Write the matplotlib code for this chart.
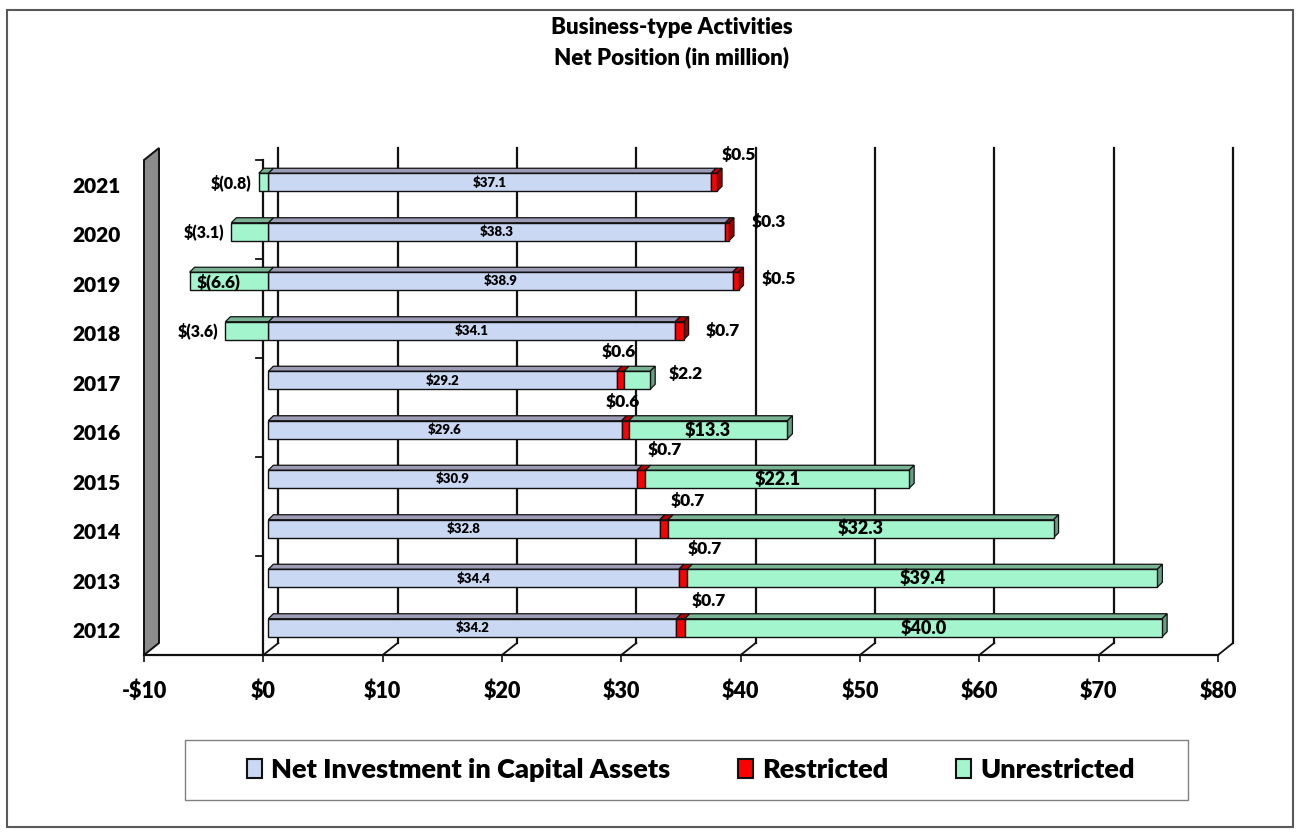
import matplotlib
matplotlib.use("Agg")
import matplotlib.pyplot as plt
from matplotlib.patches import Polygon, Rectangle, Patch
from matplotlib.transforms import ScaledTranslation

# ---- data (millions) ----
years = ["2012", "2013", "2014", "2015", "2016", "2017", "2018", "2019", "2020", "2021"]
net_investment = [34.2, 34.4, 32.8, 30.9, 29.6, 29.2, 34.1, 38.9, 38.3, 37.1]
restricted = [0.7, 0.7, 0.7, 0.7, 0.6, 0.6, 0.7, 0.5, 0.3, 0.5]
unrestricted = [40.0, 39.4, 32.3, 22.1, 13.3, 2.2, -3.6, -6.6, -3.1, -0.8]
x_ticks = [-10, 0, 10, 20, 30, 40, 50, 60, 70, 80]
x_tick_labels = ["-$10", "$0", "$10", "$20", "$30", "$40", "$50", "$60", "$70", "$80"]
series_names = ["Net Investment in Capital Assets", "Restricted", "Unrestricted"]

# ---- style ----
FONT = ["Lato", "DejaVu Sans"]
plt.rcParams["font.family"] = FONT
plt.rcParams["font.weight"] = "heavy"

C_NI, C_NI_TOP = "#CAD8F4", "#9C9CB6"
C_R, C_R_TOP, C_R_SIDE = "#FF0000", "#B80000", "#A00000"
C_U, C_U_TOP, C_U_SIDE = "#A3F5CE", "#78B394", "#6A9E84"
EDGE = "#111111"

W, H, DPI = 1300, 834, 100
fig = plt.figure(figsize=(W / DPI, H / DPI), dpi=DPI)

# plot area in pixels (front plane)
L, R, B, T = 144, 1218, 655, 160
ax = fig.add_axes([L / W, 1 - B / H, (R - L) / W, (B - T) / H])
x_min, x_max = -10, 80
ax.set_xlim(x_min, x_max)
ax.set_ylim(-0.5, len(years) - 0.5)
sx = (x_max - x_min) / (R - L)      # data units per pixel, x
sy = len(years) / (B - T)           # data units per pixel, y

for s in ["top", "right", "left"]:
    ax.spines[s].set_visible(False)
ax.spines["bottom"].set_linewidth(1.6)
ax.spines["bottom"].set_color("#111111")

# ---- back wall, gridlines and floor ----
bx, by = 15 * sx, 12 * sy
y_lo, y_hi = -0.5, len(years) - 0.5
for v in x_ticks[1:]:
    ax.plot([v + bx, v + bx], [y_lo + by, y_hi + by], color="#111111", lw=1.6,
            zorder=1, clip_on=False)
    ax.plot([v, v + bx], [y_lo, y_lo + by], color="#111111", lw=1.3,
            zorder=1, clip_on=False)
wall = Polygon([(x_min, y_lo), (x_min + bx, y_lo + by), (x_min + bx, y_hi + by), (x_min, y_hi)],
               closed=True, facecolor="#8C8C8C", edgecolor="#111111", lw=1.4,
               zorder=1, clip_on=False)
ax.add_patch(wall)

# front category axis at zero with a tick every second category
ax.plot([0, 0], [y_lo, y_hi], color="#111111", lw=1.6, zorder=2, clip_on=False)
for k in range(len(years), 0, -2):
    yb = k - 0.5
    ax.plot([-7 * sx, 0], [yb, yb], color="#111111", lw=1.3, zorder=2, clip_on=False)

# ---- 3-D bars ----
shift = ScaledTranslation(5 / DPI, 2.5 / DPI, fig.dpi_scale_trans)
tr = ax.transData + shift
bh = 18 * sy
dx, dy = 5 * sx, 5 * sy

def top_face(x0, x1, y, color):
    yt = y + bh / 2
    ax.add_patch(Polygon([(x0, yt), (x1, yt), (x1 + dx, yt + dy), (x0 + dx, yt + dy)],
                         closed=True, facecolor=color, edgecolor=EDGE, lw=0.9,
                         transform=tr, zorder=3, clip_on=False))

def side_face(x1, y, color):
    yb, yt = y - bh / 2, y + bh / 2
    ax.add_patch(Polygon([(x1, yb), (x1, yt), (x1 + dx, yt + dy), (x1 + dx, yb + dy)],
                         closed=True, facecolor=color, edgecolor=EDGE, lw=0.9,
                         transform=tr, zorder=3, clip_on=False))

for i in range(len(years)):
    ni, r, u = net_investment[i], restricted[i], unrestricted[i]
    segs = [(0, ni, C_NI, C_NI_TOP), (ni, r, C_R, C_R_TOP)]
    if u >= 0:
        segs.append((ni + r, u, C_U, C_U_TOP))
    else:
        segs.append((u, -u, C_U, C_U_TOP))
    for left, width, fc, tc in segs:
        top_face(left, left + width, i, tc)
    right_end = ni + r + max(u, 0)
    side_face(right_end, i, C_U_SIDE if u > 0 else C_R_SIDE)
    for left, width, fc, tc in segs:
        ax.barh(i, width, left=left, height=bh, color=fc, edgecolor=EDGE,
                linewidth=1.0, transform=tr, zorder=4, clip_on=False)

# ---- data labels ----
def money(v):
    return f"$({abs(v):.1f})" if v < 0 else f"${v:.1f}"

ltr = ax.transData + ScaledTranslation(5 / DPI, 2.5 / DPI, fig.dpi_scale_trans)
LW = "heavy"

for i, v in enumerate(net_investment):
    ax.text(v / 2, i, money(v), ha="center", va="center", fontsize=9.5,
            fontweight=LW, transform=ltr, zorder=6)

# restricted label offsets in pixels: (anchor, dx, dy)
r_offsets = [("mid", 28, 27), ("mid", 22, 29), ("mid", 24, 28), ("mid", 24, 29),
             ("mid", -2, 28), ("mid", -2, 28), ("end", 39, 0), ("end", 40, 2),
             ("end", 40, 10), ("end", 22, 27)]
for i, r in enumerate(restricted):
    anchor, ox, oy = r_offsets[i]
    base = net_investment[i] + (r / 2 if anchor == "mid" else r)
    ax.annotate(money(r), (base, i), xycoords=ltr, xytext=(ox, oy),
                textcoords="offset pixels", ha="center", va="center",
                fontsize=12.5, fontweight=LW, zorder=6)

# unrestricted labels
for i, u in enumerate(unrestricted):
    ni, r = net_investment[i], restricted[i]
    if u >= 10:
        ax.text(ni + r + u / 2, i, money(u), ha="center", va="center",
                fontsize=13, fontweight=LW, transform=ltr, zorder=6)
    elif u >= 0:
        ax.annotate(money(u), (ni + r + u, i), xycoords=ltr, xytext=(18, 6),
                    textcoords="offset pixels", ha="left", va="center",
                    fontsize=12.5, fontweight=LW, zorder=6)
    elif u <= -5:
        ax.annotate(money(u), (u / 2, i), xycoords=ltr, xytext=(-10, 0),
                    textcoords="offset pixels", ha="center", va="center",
                    fontsize=12.5, fontweight=LW, zorder=6)
    else:
        ax.annotate(money(u), (u, i), xycoords=ltr, xytext=(-7, 0),
                    textcoords="offset pixels", ha="right", va="center",
                    fontsize=11.5, fontweight=LW, zorder=6)

# ---- axes ticks ----
ax.set_xticks(x_ticks)
ax.set_xticklabels(x_tick_labels, fontsize=15.5, fontweight="heavy")
ax.tick_params(axis="x", length=5, width=1.2, pad=13, color="#111111")
ax.set_yticks(range(len(years)))
ax.set_yticklabels(years, fontsize=15, fontweight="heavy")
ax.tick_params(axis="y", length=0, pad=17)

# ---- title ----
fig.text(672 / W, 1 - 27 / H, "Business-type Activities", ha="center", va="center",
         fontsize=16, fontweight="heavy")
fig.text(672 / W, 1 - 57 / H, "Net Position (in million)", ha="center", va="center",
         fontsize=16, fontweight="heavy")

# ---- legend ----
fig.add_artist(Rectangle((185 / W, 1 - 800 / H), (1188 - 185) / W, 60 / H,
                         transform=fig.transFigure, facecolor="white",
                         edgecolor="#808080", lw=1.0))
handles = [Patch(facecolor=c, edgecolor="#111111", lw=1.5) for c in (C_NI, C_R, C_U)]
fig.legend(handles, series_names, loc="center", bbox_to_anchor=(691 / W, 1 - 770 / H),
           ncol=3, frameon=False, handlelength=0.55, handleheight=0.7,
           handletextpad=0.35, columnspacing=2.5,
           prop={"weight": "heavy", "size": 19.5, "family": FONT})

# outer frame
fig.add_artist(Rectangle((7 / W, 1 - 827 / H), (1293 - 7) / W, (827 - 10) / H,
                         transform=fig.transFigure, facecolor="none",
                         edgecolor="#595959", lw=1.5))

fig.savefig("out.png", dpi=DPI, facecolor="white")
